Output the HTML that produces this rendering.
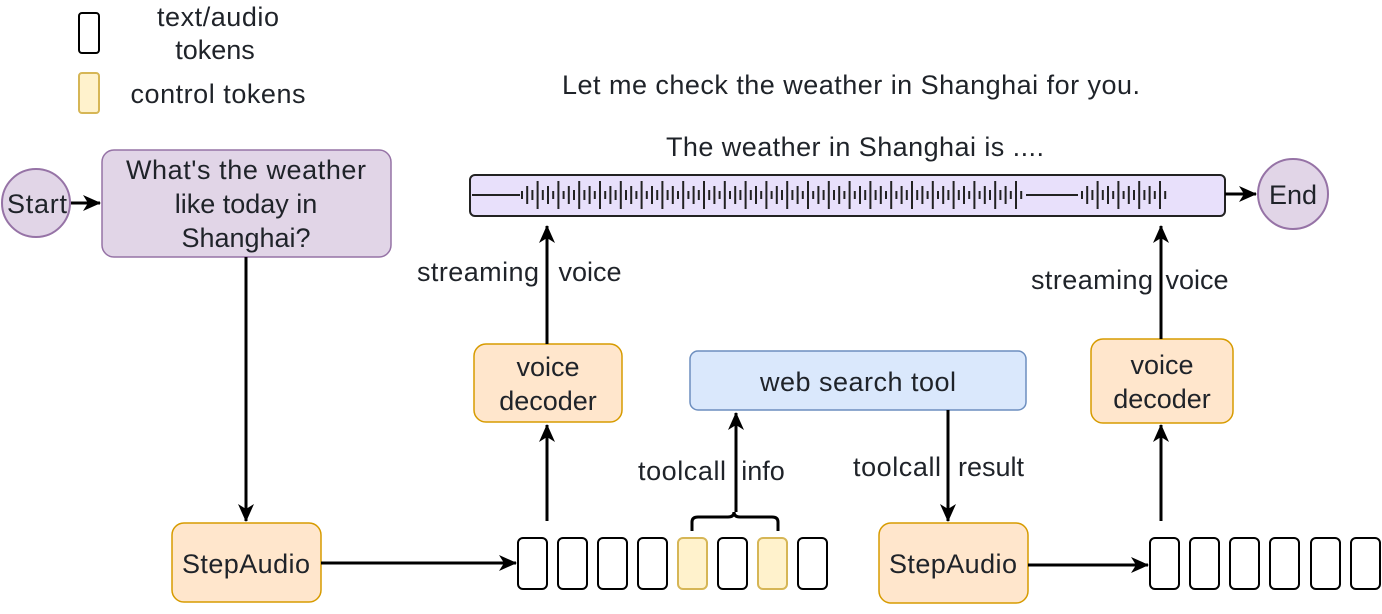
<!DOCTYPE html>
<html><head><meta charset="utf-8"><style>
body{margin:0;background:#fff}
svg text{font-family:"Liberation Sans",sans-serif;fill:#1f2329}
</style></head><body>
<svg width="1382" height="609" viewBox="0 0 1382 609" xmlns="http://www.w3.org/2000/svg">
<defs>
<marker id="b" markerWidth="18" markerHeight="18" refX="17" refY="9" orient="auto" markerUnits="userSpaceOnUse" viewBox="0 0 18 18">
<path d="M0,1 L18,9 L0,17 L5,9 Z" fill="#000"/></marker>
</defs>
<g font-size="27">
<!-- legend -->
<rect x="79" y="13" width="20" height="40" rx="3" fill="#fff" stroke="#000" stroke-width="2"/>
<rect x="79" y="73" width="20" height="40" rx="3" fill="#fff2cc" stroke="#d6b656" stroke-width="2"/>
<text x="218" y="26" text-anchor="middle" textLength="122">text/audio</text>
<text x="215" y="59" text-anchor="middle">tokens</text>
<text x="218" y="103" text-anchor="middle" textLength="175">control tokens</text>
<!-- top texts -->
<text x="851" y="94" text-anchor="middle" textLength="578">Let me check the weather in Shanghai for you.</text>
<text x="855" y="156" text-anchor="middle" textLength="378">The weather in Shanghai is ....</text>
<!-- start -->
<circle cx="36" cy="203" r="34" fill="#e1d5e7" stroke="#9673a6" stroke-width="2"/>
<text x="37" y="213" text-anchor="middle" fill="#000" textLength="60">Start</text>
<line x1="71" y1="203" x2="100" y2="203" stroke="#000" stroke-width="3" marker-end="url(#b)"/>
<rect x="102" y="150" width="289" height="107" rx="12" fill="#e1d5e7" stroke="#9673a6" stroke-width="1.5"/>
<text x="246" y="179" text-anchor="middle" textLength="240">What's the weather</text>
<text x="246" y="213" text-anchor="middle">like today in</text>
<text x="246" y="247" text-anchor="middle">Shanghai?</text>
<line x1="246" y1="257" x2="246" y2="521" stroke="#000" stroke-width="3" marker-end="url(#b)"/>
<!-- StepAudio 1 -->
<rect x="172" y="523" width="149" height="79" rx="12" fill="#ffe6cc" stroke="#d79b00" stroke-width="1.5"/>
<text x="246" y="573" text-anchor="middle" textLength="128">StepAudio</text>
<line x1="321" y1="563" x2="516" y2="563" stroke="#000" stroke-width="3" marker-end="url(#b)"/>
<!-- tokens -->
<g stroke="#000" stroke-width="2" fill="#fff">
<rect x="518" y="538" width="29" height="51" rx="5"/>
<rect x="558" y="538" width="29" height="51" rx="5"/>
<rect x="598" y="538" width="29" height="51" rx="5"/>
<rect x="638" y="538" width="29" height="51" rx="5"/>
<rect x="718" y="538" width="29" height="51" rx="5"/>
<rect x="798" y="538" width="29" height="51" rx="5"/>
<rect x="1150" y="538" width="29" height="51" rx="5"/>
<rect x="1190" y="538" width="29" height="51" rx="5"/>
<rect x="1230" y="538" width="29" height="51" rx="5"/>
<rect x="1270" y="538" width="29" height="51" rx="5"/>
<rect x="1311" y="538" width="29" height="51" rx="5"/>
<rect x="1351" y="538" width="29" height="51" rx="5"/>
</g>
<g stroke="#d6b656" stroke-width="2" fill="#fff2cc">
<rect x="678" y="538" width="29" height="51" rx="5"/>
<rect x="758" y="538" width="29" height="51" rx="5"/>
</g>
<!-- brace -->
<path d="M692,531 L692,522 Q692,517 698,517 L728,517 Q734,517 734,512 Q734,517 740,517 L772,517 Q778,517 778,522 L778,531" fill="none" stroke="#000" stroke-width="3"/>
<line x1="736" y1="512" x2="736" y2="413" stroke="#000" stroke-width="3" marker-end="url(#b)"/>
<text x="682" y="480" text-anchor="middle" textLength="88">toolcall</text>
<text x="763" y="480" text-anchor="middle">info</text>
<!-- voice decoder 1 -->
<line x1="547" y1="521" x2="547" y2="425" stroke="#000" stroke-width="3" marker-end="url(#b)"/>
<rect x="474" y="344" width="148" height="78" rx="12" fill="#ffe6cc" stroke="#d79b00" stroke-width="1.5"/>
<text x="548" y="376" text-anchor="middle">voice</text>
<text x="548" y="410" text-anchor="middle">decoder</text>
<line x1="547" y1="344" x2="547" y2="226" stroke="#000" stroke-width="3" marker-end="url(#b)"/>
<text x="478" y="281" text-anchor="middle" textLength="122">streaming</text>
<text x="590" y="281" text-anchor="middle">voice</text>
<!-- web search -->
<rect x="690" y="351" width="336" height="59" rx="8" fill="#dae8fc" stroke="#6c8ebf" stroke-width="1.5"/>
<text x="858" y="391" text-anchor="middle" textLength="196">web search tool</text>
<line x1="948" y1="410" x2="948" y2="521" stroke="#000" stroke-width="3" marker-end="url(#b)"/>
<text x="897" y="476" text-anchor="middle" textLength="88">toolcall</text>
<text x="991" y="476" text-anchor="middle">result</text>
<!-- StepAudio 2 -->
<rect x="879" y="523" width="149" height="80" rx="12" fill="#ffe6cc" stroke="#d79b00" stroke-width="1.5"/>
<text x="953" y="573" text-anchor="middle" textLength="128">StepAudio</text>
<line x1="1028" y1="565" x2="1148" y2="565" stroke="#000" stroke-width="3" marker-end="url(#b)"/>
<!-- voice decoder 2 -->
<line x1="1161" y1="521" x2="1161" y2="425" stroke="#000" stroke-width="3" marker-end="url(#b)"/>
<rect x="1091" y="339" width="142" height="84" rx="12" fill="#ffe6cc" stroke="#d79b00" stroke-width="1.5"/>
<text x="1162" y="374" text-anchor="middle">voice</text>
<text x="1162" y="408" text-anchor="middle">decoder</text>
<line x1="1161" y1="339" x2="1161" y2="226" stroke="#000" stroke-width="3" marker-end="url(#b)"/>
<text x="1092" y="289" text-anchor="middle" textLength="122">streaming</text>
<text x="1197" y="289" text-anchor="middle">voice</text>
</g>
<!-- waveform -->
<rect x="470" y="175" width="755" height="41" rx="5" fill="#e8e0fb" stroke="#222" stroke-width="2"/>
<line x1="472" y1="195" x2="520" y2="195" stroke="#222" stroke-width="2"/>
<line x1="1026" y1="195" x2="1078" y2="195" stroke="#222" stroke-width="2"/>
<g id="wave" stroke="#222" stroke-width="2"></g>
<line x1="1225" y1="194" x2="1256" y2="194" stroke="#000" stroke-width="3" marker-end="url(#b)"/>
<circle cx="1293" cy="194" r="35" fill="#e1d5e7" stroke="#9673a6" stroke-width="2"/>
<text x="1293" y="204" font-size="27" text-anchor="middle" fill="#000">End</text>
</svg>
<script>
var g=document.getElementById('wave'),s='';
var pat=[4,9,5,14,5,9,4,14];
function seg(a,b){var i=0;for(var x=a;x<b;x+=5.2){var h=pat[i%pat.length];i++;s+='<line x1="'+x.toFixed(1)+'" y1="'+(195-h)+'" x2="'+x.toFixed(1)+'" y2="'+(195+h)+'"/>';}}
seg(522,1024);seg(1082,1166);
g.innerHTML=s;
</script>
</body></html>
